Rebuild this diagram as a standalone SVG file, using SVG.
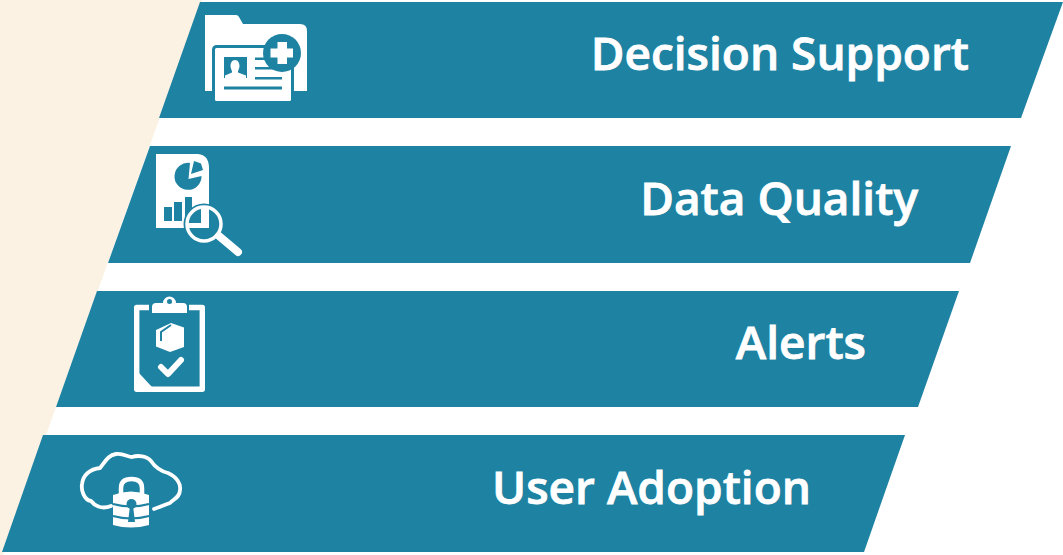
<svg xmlns="http://www.w3.org/2000/svg" width="1063" height="555" viewBox="0 0 1063 555">
<style>
.bar{fill:#1e82a2}
.lbl{font-family:"Open Sans","Liberation Sans",sans-serif;font-weight:600;font-size:46px;fill:#fff;stroke:#fff;stroke-width:.8;text-anchor:end}
.w{fill:#fff}
.t{fill:#1e82a2}
.ls{fill:none;stroke:#fff;stroke-width:3.8;stroke-linecap:round;stroke-linejoin:round}
</style>
<defs><clipPath id="lens"><circle cx="204" cy="224" r="16"/></clipPath></defs>
<rect width="1063" height="555" fill="#fff"/>
<polygon points="0,0 202,0 3,555 0,555" fill="#fcf2e4"/>
<g id="decision-support">
<polygon class="bar" points="200,2 1063,2 1021,118 159,118"/>
<path class="w" d="M205,15H236Q238,15 239,17L243,24H300Q307,24 307,31V91H205Z"/>
<rect class="w" x="213.500" y="46.500" width="79" height="56" rx="3" style="stroke:#1e82a2;stroke-width:3"/>
<rect class="t" x="224" y="57" width="23" height="21"/>
<path class="w" d="M235,60c3,0 4.500,3 4.500,6c0,3-2,5-1.500,6.500L246,75.500V78H241L235,80L229,78H225V75.500L232,72.500C232.500,71 230.500,69 230.500,66C230.500,63 232,60 235,60Z"/>
<rect class="t" x="255" y="57.500" width="14" height="2.500"/>
<rect class="t" x="255" y="67" width="27" height="2.500"/>
<rect class="t" x="255" y="77" width="27" height="2.500"/>
<rect class="t" x="224" y="86.500" width="58" height="3"/>
<circle class="t" cx="282" cy="53" r="19"/>
<path class="w" d="M277.500,42H287V48.500H293V57.500H287V64H277.500V57.500H270.500V48.500H277.500Z"/>
</g>
<g id="data-quality">
<polygon class="bar" points="150,146 1011,146 970,263 108,263"/>
<path class="w" d="M156,154H198Q209,155 209,168V228H156Z"/>
<path class="t" d="M190,163A13.500,13.500 0 1 0 201.500,176L188.500,179Z"/>
<path class="t" d="M194,161L201,163.500L203,170L191,174Z"/>
<rect class="t" x="164" y="207" width="8" height="14"/>
<rect class="t" x="174" y="202" width="8" height="19"/>
<rect class="t" x="185" y="197" width="7" height="24"/>
<circle class="t" cx="204" cy="224" r="20.500"/>
<g clip-path="url(#lens)">
<rect class="w" x="201" y="206" width="8" height="22"/>
<rect class="w" x="186" y="223" width="23" height="5"/>
</g>
<circle cx="204" cy="224" r="17" fill="none" stroke="#fff" stroke-width="3.500"/>
<path d="M219,236L238,252" fill="none" stroke="#fff" stroke-width="8" stroke-linecap="round"/>
</g>
<g id="alerts">
<polygon class="bar" points="97,291 959,291 918,407 56,407"/>
<path d="M149,307.500H136.700V389.300H202.300V307.500H189" fill="none" stroke="#fff" stroke-width="5.400" stroke-linejoin="round"/>
<path class="w" d="M138,372L152,387H138Z"/>
<path class="w" d="M152,313V307Q152,303 156,303H163A6.500,6.500 0 0 1 176,303H183Q187,303 187,307V313Z"/>
<circle class="t" cx="169.500" cy="301.500" r="2.500"/>
<path class="w" d="M171,323L184,327.500V347L170,352L156,346.500V330Z"/>
<path d="M171,325L161,332V341" fill="none" stroke="#1e82a2" stroke-width="2"/>
<path d="M161,367L168,374L181,360" fill="none" stroke="#fff" stroke-width="6" stroke-linecap="round" stroke-linejoin="round"/>
</g>
<g id="user-adoption">
<polygon class="bar" points="43,435 905,435 864,552 2,552"/>
<path class="ls" d="M111,506C101,510 94,505 91,501C84,500 81,490 82,484C83,475 90,469 100,468C105,462 108,455 116,454C123,453 128,457 132,457C138,455 147,456 151,461C155,467 160,471 168,473C177,477 181,484 180,490C180,497 174,499 170,503C164,505 160,507 154,509"/>
<path d="M121,494V488Q121,479 131.500,479Q142,479 142,488V494" fill="none" stroke="#fff" stroke-width="4.500"/>
<path class="w" d="M113,495Q131,488 149,495V525Q131,530 113,525Z"/>
<path d="M113,504Q131,509 149,504M113,516Q131,521 149,516" fill="none" stroke="#1e82a2" stroke-width="2"/>
<circle class="t" cx="131.500" cy="504" r="5"/>
<path class="t" d="M130,506H133L135,522H128Z"/>
</g>
<g id="labels">
<text class="lbl" x="969" y="70">Decision Support</text>
<text class="lbl" x="918" y="215">Data Quality</text>
<text class="lbl" x="866" y="359">Alerts</text>
<text class="lbl" x="811" y="504">User Adoption</text>
</g>
</svg>
